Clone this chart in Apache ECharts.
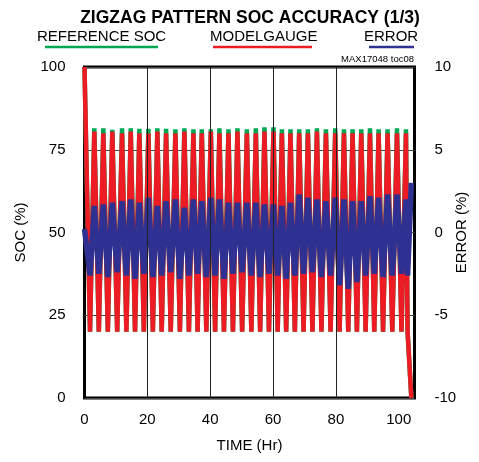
<!DOCTYPE html>
<html>
<head>
<meta charset="utf-8">
<script src="https://cdn.jsdelivr.net/npm/echarts@6/dist/echarts.min.js"></script>
<style>html,body{margin:0;padding:0;background:#fff}#c{width:479px;height:462px}</style>
</head>
<body>
<div id="c"></div>
<script>
// ---- data ----
var socTime = [0, 1.75, 3.12, 4.56, 5.99, 7.42, 8.85, 10.40, 11.94, 13.33, 14.71, 16.08, 17.45, 18.89, 20.32, 21.75, 23.18, 24.57, 25.96, 27.44, 28.92, 30.35, 31.78, 33.22, 34.65, 35.99, 37.32, 38.76, 40.19, 41.56, 42.93, 44.37, 45.80, 47.23, 48.66, 50.16, 51.66, 53.09, 54.52, 55.89, 57.26, 58.70, 60.13, 61.47, 62.80, 64.17, 65.54, 66.93, 68.31, 69.70, 71.08, 72.52, 73.95, 75.39, 76.82, 78.30, 79.78, 81.17, 82.55, 83.92, 85.29, 86.68, 88.06, 89.45, 90.83, 92.20, 93.57, 95.00, 96.43, 97.93, 99.43, 100.86, 102.29, 102.80, 104.00];
var modelSoc = [100, 20, 80.5, 20, 80, 20, 80.5, 20, 80, 20, 80.5, 20, 80, 20, 80, 20, 80.5, 20, 80, 20, 80, 20, 80.5, 20, 80, 20, 80, 20, 80.5, 20, 80, 20, 80, 20, 80.5, 20, 80, 20, 80, 20, 80.5, 20, 80.5, 20, 80, 20, 80, 20, 80, 20, 80, 20, 80.5, 20, 80, 20, 80, 20, 80, 20, 80, 20, 80, 20, 80, 20, 80, 20, 80, 20, 80, 20, 80, 20, 0];
var refSoc = [100, 20, 81.5, 20, 81.5, 20, 81, 20, 81.5, 20, 81.5, 20, 81.3, 20, 81.3, 20, 81.5, 20, 81.3, 20, 81.2, 20, 81.5, 20, 81.2, 20, 81.2, 20, 81.2, 20, 81.5, 20, 81.2, 20, 81.5, 20, 81.2, 20, 81.5, 20, 81.8, 20, 81.8, 20, 81.2, 20, 81.2, 20, 81.2, 20, 81.2, 20, 81.5, 20, 81.2, 20, 81.5, 20, 81.2, 20, 81.2, 20, 81.2, 20, 81.5, 20, 81.2, 20, 81.2, 20, 81.5, 20, 81.2, 20, 0];
var errorPct = [0.2, -2.6, 1.6, -2.5, 1.7, -2.7, 1.8, -2.4, 1.9, -2.6, 2.0, -2.8, 1.8, -2.5, 2.1, -2.7, 1.6, -2.6, 1.9, -2.4, 2.0, -2.8, 1.5, -2.6, 2.0, -2.5, 1.9, -2.7, 2.1, -2.6, 2.0, -2.8, 1.8, -2.5, 1.8, -2.4, 1.8, -2.6, 1.8, -2.7, 1.7, -2.5, 1.7, -2.6, 1.6, -2.8, 1.8, -2.6, 2.3, -2.5, 2.1, -2.4, 2.0, -2.7, 1.9, -2.6, 2.1, -3.2, 2.0, -3.4, 1.9, -3.0, 1.9, -2.6, 2.2, -2.5, 2.1, -2.7, 2.3, -2.6, 2.3, -2.5, 2.0, -2.6, 3.0];
var xTicks = [0, 20, 40, 60, 80, 100];
var xGridLines = [20, 40, 60, 80];
var socTicks = [0, 25, 50, 75, 100];
var errTicks = [-10, -5, 0, 5, 10];
var legendNames = ['REFERENCE SOC', 'MODELGAUGE', 'ERROR'];

// ---- styles ----
var GREEN = '#00a651', RED = '#ed1c24', BLUE = '#2e3192';
var FONT = "'Liberation Sans', Arial, sans-serif";

function zip(xs, ys) { return xs.map(function (x, i) { return [x, ys[i]]; }); }

var chart = echarts.init(document.getElementById('c'), null, { renderer: 'canvas' });
chart.setOption({
  animation: false,
  backgroundColor: '#fff',
  textStyle: { fontFamily: FONT },
  title: {
    text: 'ZIGZAG PATTERN SOC ACCURACY (1/3)',
    left: 245, top: 4, textAlign: 'center',
    textStyle: { fontFamily: FONT, fontSize: 17.5, fontWeight: 'bold', color: '#000' }
  },
  graphic: [
    { type: 'text', left: 37, top: 29, style: { text: legendNames[0], font: '15px ' + FONT, fill: '#000' } },
    { type: 'line', shape: { x1: 45, y1: 47, x2: 158, y2: 47 }, style: { stroke: GREEN, lineWidth: 2.5 } },
    { type: 'text', left: 210, top: 29, style: { text: legendNames[1], font: '15px ' + FONT, fill: '#000' } },
    { type: 'line', shape: { x1: 213, y1: 47, x2: 312, y2: 47 }, style: { stroke: RED, lineWidth: 2.5 } },
    { type: 'text', left: 364, top: 29, style: { text: legendNames[2], font: '15px ' + FONT, fill: '#000' } },
    { type: 'line', shape: { x1: 369, y1: 47, x2: 414, y2: 47 }, style: { stroke: BLUE, lineWidth: 2.5 } },
    { type: 'text', right: 65, top: 54, style: { text: 'MAX17048 toc08', font: '9.5px ' + FONT, fill: '#000' } }
  ],
  grid: { left: 84.5, right: 64.5, top: 67, bottom: 64, show: true, borderColor: '#000', borderWidth: 3,
    backgroundColor: 'transparent', containLabel: false, outerBoundsMode: 'none' },
  xAxis: {
    type: 'value', min: xTicks[0], max: 105, interval: 20,
    name: 'TIME (Hr)', nameLocation: 'middle', nameGap: 40, nameMoveOverlap: false,
    nameTextStyle: { fontFamily: FONT, fontSize: 15, color: '#000' },
    axisLine: { show: false }, axisTick: { show: false },
    axisLabel: { fontFamily: FONT, fontSize: 15, color: '#000', margin: 14,
      formatter: function (v) { return xTicks.indexOf(v) >= 0 ? String(v) : ''; } },
    splitLine: { show: false }
  },
  yAxis: [{
    type: 'value', min: socTicks[0], max: socTicks[socTicks.length - 1], interval: 25,
    name: 'SOC (%)', nameLocation: 'middle', nameGap: 56, nameRotate: 90, nameMoveOverlap: false,
    nameTextStyle: { fontFamily: FONT, fontSize: 15, color: '#000' },
    axisLine: { show: false }, axisTick: { show: false },
    axisLabel: { fontFamily: FONT, fontSize: 15, color: '#000', margin: 19 },
    splitLine: { show: true, lineStyle: { color: '#444', width: 1 } }
  }, {
    type: 'value', min: errTicks[0], max: errTicks[errTicks.length - 1], interval: 5,
    name: 'ERROR (%)', nameLocation: 'middle', nameGap: 40, nameRotate: 90, nameMoveOverlap: false,
    nameTextStyle: { fontFamily: FONT, fontSize: 15, color: '#000' },
    axisLine: { show: false }, axisTick: { show: false },
    axisLabel: { fontFamily: FONT, fontSize: 15, color: '#000', margin: 20 },
    splitLine: { show: false }
  }],
  series: [
    {
      name: 'grid', type: 'line', data: [], silent: true, z: 1,
      markLine: { silent: true, symbol: 'none', label: { show: false },
        lineStyle: { color: '#222', width: 1, type: 'solid' },
        data: xGridLines.map(function (v) { return { xAxis: v }; }) }
    },
    { name: legendNames[0], type: 'line', data: zip(socTime, refSoc), showSymbol: false,
      lineStyle: { color: GREEN, width: 4.5 }, itemStyle: { color: GREEN }, z: 2 },
    { name: legendNames[1], type: 'line', data: zip(socTime, modelSoc), showSymbol: false,
      lineStyle: { color: RED, width: 4.5 }, itemStyle: { color: RED }, z: 3 },
    { name: legendNames[2], type: 'line', yAxisIndex: 1, data: zip(socTime, errorPct), showSymbol: false,
      lineStyle: { color: BLUE, width: 5.5 }, itemStyle: { color: BLUE }, z: 4 }
  ]
});
</script>
</body>
</html>
